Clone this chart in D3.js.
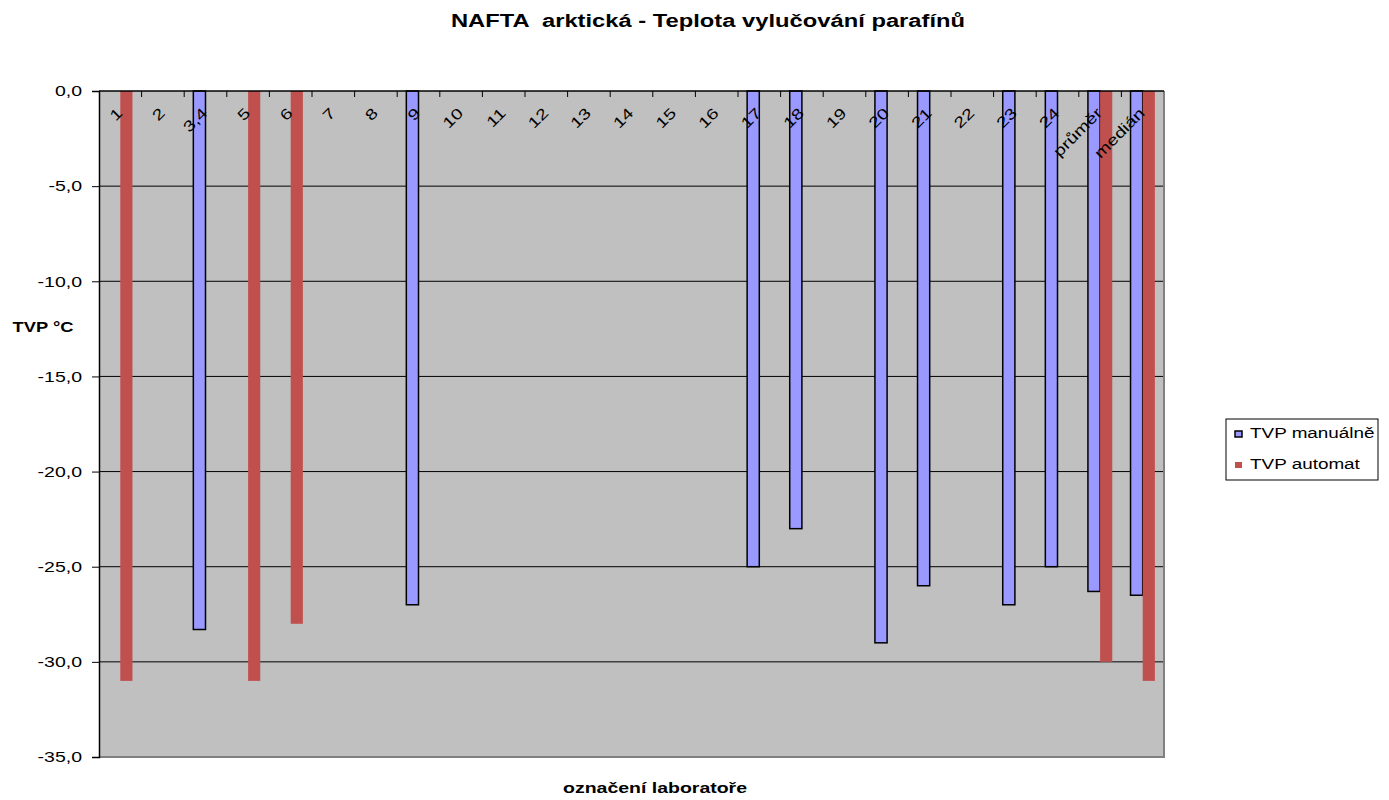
<!DOCTYPE html>
<html lang="cs">
<head>
<meta charset="UTF-8">
<title>NAFTA arktická</title>
<script src="https://d3js.org/d3.v7.min.js"></script>
<style>
  body { margin: 0; background: #fff; }
  text { font-family: "Liberation Sans", Arial, sans-serif; }
</style>
</head>
<body>
<svg width="1389" height="800" id="mainsvg"></svg>
<script>
// data
const labs = ['1', '2', '3,4', '5', '6', '7', '8', '9', '10', '11', '12', '13', '14', '15', '16',
              '17', '18', '19', '20', '21', '22', '23', '24', 'průměr', 'medián'];
const manual = [null, null, -28.3, null, null, null, null, -27, null, null, null, null, null, null, null,
                -25, -23, null, -29, -26, null, -27, -25, -26.3, -26.5];
const automat = [-31, null, null, -31, -28, null, null, null, null, null, null, null, null, null, null,
                 null, null, null, null, null, null, null, null, -30, -31];
const yTicks = [0, -5, -10, -15, -20, -25, -30, -35];
const seriesNames = ['TVP manuálně', 'TVP automat'];

const SX = 1.3; // text in the original is stretched horizontally

const svg = d3.select('#mainsvg');
const margin = {top: 91, left: 99, right: 1389 - 1164, bottom: 800 - 757};
const innerWidth = 1389 - margin.left - margin.right;
const innerHeight = 800 - margin.top - margin.bottom;

const xScale = d3.scaleBand().domain(labs).range([0, innerWidth]);
const yScale = d3.scaleLinear().domain([0, -35]).range([0, innerHeight]);
const barW = xScale.bandwidth() / 3.5;

const g = svg.append('g').attr('transform', `translate(${margin.left},${margin.top})`);

// plot background
g.append('rect').attr('width', innerWidth).attr('height', innerHeight).attr('fill', '#c0c0c0');

// gridlines
g.selectAll('.grid').data(yTicks.slice(1, -1)).join('line')
  .attr('x1', 0).attr('x2', innerWidth)
  .attr('y1', d => yScale(d)).attr('y2', d => yScale(d))
  .attr('stroke', '#000').attr('stroke-width', 1);

// border right / bottom
g.append('path')
  .attr('d', `M${innerWidth},0V${innerHeight}H0`)
  .attr('fill', 'none').attr('stroke', '#808080').attr('stroke-width', 2);

// bars
const manData = labs.map((l, i) => ({l, v: manual[i]})).filter(d => d.v !== null);
const autData = labs.map((l, i) => ({l, v: automat[i]})).filter(d => d.v !== null);

g.selectAll('.man').data(manData).join('rect')
  .attr('x', d => xScale(d.l) + xScale.bandwidth() / 2 - barW)
  .attr('y', yScale(0))
  .attr('width', barW)
  .attr('height', d => yScale(d.v) - yScale(0))
  .attr('fill', '#9999ff').attr('stroke', '#000').attr('stroke-width', 1.5);

g.selectAll('.aut').data(autData).join('rect')
  .attr('x', d => xScale(d.l) + xScale.bandwidth() / 2)
  .attr('y', yScale(0))
  .attr('width', barW)
  .attr('height', d => yScale(d.v) - yScale(0))
  .attr('fill', '#c0504d');

// y axis
const yAxis = d3.axisLeft(yScale).tickValues(yTicks).tickSize(7)
  .tickFormat(d => d3.format('.1f')(d).replace('.', ',').replace('−', '-'));
const ya = g.append('g').call(yAxis);
ya.select('.domain').attr('stroke', '#000').attr('stroke-width', 1.5);
ya.selectAll('.tick line').attr('stroke', '#000');
ya.selectAll('.tick text')
  .attr('x', -17 / SX)
  .attr('transform', `scale(${SX},1)`)
  .attr('font-size', 15).attr('fill', '#000')
  .style('font-family', '"Liberation Sans", Arial, sans-serif');

// x axis at 0 (top), ticks pointing down
const xa = g.append('g');
xa.append('line').attr('x1', 0).attr('x2', innerWidth).attr('y1', 0).attr('y2', 0)
  .attr('stroke', '#000').attr('stroke-width', 1.5);
xa.selectAll('.xt').data(labs.slice(1)).join('line')
  .attr('x1', d => xScale(d)).attr('x2', d => xScale(d))
  .attr('y1', 0).attr('y2', 6).attr('stroke', '#000');
xa.selectAll('.xl').data(labs).join('text')
  .attr('transform', d => `translate(${xScale(d) + xScale.bandwidth() / 2 + 3},23) rotate(-45) scale(${SX},1)`)
  .attr('text-anchor', 'end')
  .attr('font-size', 15)
  .text(d => d);

// titles
svg.append('text').attr('transform', 'translate(708,27) scale(1.32,1)').attr('text-anchor', 'middle')
  .attr('font-size', 18).attr('font-weight', 'bold').attr('xml:space', 'preserve')
  .text('NAFTA  arktická - Teplota vylučování parafínů');
svg.append('text').attr('transform', `translate(655,793) scale(${SX},1)`).attr('text-anchor', 'middle')
  .attr('font-size', 15).attr('font-weight', 'bold').text('označení laboratoře');
svg.append('text').attr('transform', 'translate(43,332) scale(1.22,1)').attr('text-anchor', 'middle')
  .attr('font-size', 15).attr('font-weight', 'bold').text('TVP °C');

// legend
const lg = svg.append('g').attr('transform', 'translate(1226,419)');
lg.append('rect').attr('width', 152).attr('height', 61).attr('fill', '#fff')
  .attr('stroke', '#000').attr('stroke-width', 1);
const colors = ['#9999ff', '#c0504d'];
seriesNames.forEach((s, i) => {
  const base = 19 + i * 31;
  lg.append('rect').attr('x', 9).attr('y', base - 7).attr('width', 7).attr('height', 6)
    .attr('fill', colors[i]).attr('stroke', i === 0 ? '#000' : 'none').attr('stroke-width', 1.5);
  lg.append('text').attr('transform', `translate(24,${base}) scale(1.26,1)`)
    .attr('font-size', 15).text(s);
});
</script>
</body>
</html>
